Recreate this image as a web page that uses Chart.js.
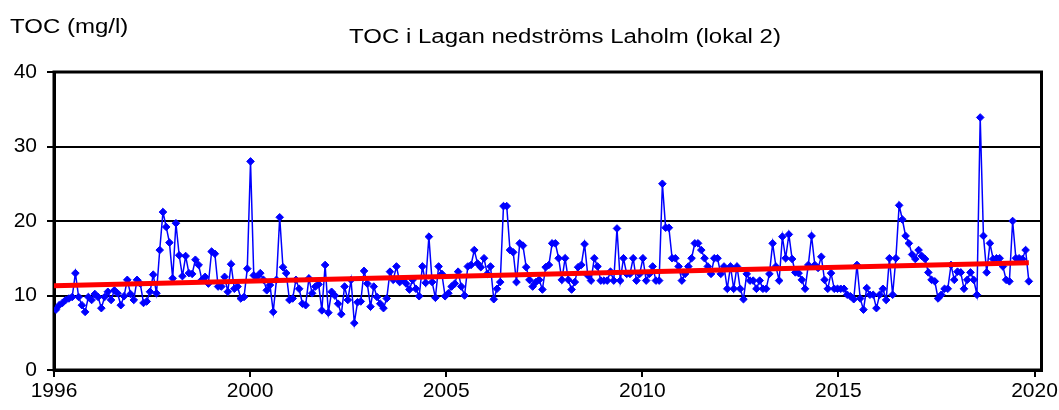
<!DOCTYPE html>
<html lang="sv">
  <head>
    <meta charset="UTF-8" />
    <title>TOC i Lagan nedströms Laholm</title>
    <style>
      body {
        margin: 0;
        background: #ffffff;
      }
      #toc-chart {
        display: block;
      }
    </style>
    <script src="https://cdn.jsdelivr.net/npm/chart.js"></script>
  </head>
  <body>
    <canvas id="toc-chart" width="1059" height="410"></canvas>
    <script>
      // values, one per sample
      const tocValues = [
        8.1, 8.7, 9.0, 9.4, 9.6, 9.8, 13.0, 9.8, 8.7, 7.8,
        9.8, 9.4, 10.2, 9.8, 8.3, 9.8, 10.5, 9.4, 10.7, 10.3,
        8.7, 9.9, 12.1, 10.2, 9.4, 12.1, 11.6, 9.0, 9.2, 10.5,
        12.8, 10.3, 16.1, 21.2, 19.2, 17.1, 12.3, 19.7, 15.4, 12.6,
        15.3, 13.0, 12.9, 14.8, 14.1, 12.1, 12.5, 11.6, 15.9, 15.6,
        11.2, 11.2, 12.5, 10.5, 14.2, 10.9, 11.2, 9.6, 9.8, 13.6,
        28.0, 12.7, 12.5, 13.0, 12.1, 10.7, 11.4, 7.8, 12.1, 20.5,
        13.8, 13.0, 9.4, 9.6,
        12.1, 10.9, 8.9, 8.7, 12.3, 10.3, 11.2, 11.5, 8.0, 14.1,
        7.7, 10.5, 10.0, 8.9, 7.5, 11.2, 9.4, 12.1, 6.3, 9.1,
        9.2, 13.3, 11.6, 8.5, 11.2, 9.8, 8.9, 8.3, 9.6, 13.2,
        12.1, 13.9, 11.8, 12.1, 11.6, 10.8, 12.1, 10.9, 9.9, 13.9,
        11.7, 17.9, 11.8, 9.7, 13.9, 12.9, 9.9, 10.3, 11.2, 11.6,
        13.2, 11.2, 10.0, 13.9, 14.1, 16.1, 14.3, 13.8, 15.0, 12.9,
        13.9, 9.5, 10.9, 11.8, 22.0, 22.0, 16.1, 15.8, 11.8, 17.0,
        16.7, 13.8, 12.1, 11.2, 11.8, 12.1,
        10.8, 13.8, 14.1, 17.0, 17.0, 15.0, 12.1, 15.0, 12.1, 10.8,
        11.8, 13.8, 14.1, 16.9, 12.7, 12.0, 15.0, 13.9, 12.0, 12.0,
        12.0, 13.2, 12.0, 19.0, 12.0, 15.0, 12.9, 12.9, 15.0, 12.0,
        12.9, 15.0, 12.0, 12.9, 13.9, 12.0, 12.0, 25.0, 19.1, 19.1,
        15.0, 15.0, 13.9, 12.0, 12.9, 13.9, 15.0, 17.0, 17.0, 16.1,
        15.0, 13.9, 12.9, 15.0, 15.0, 12.9, 13.9, 10.9, 13.9, 10.9,
        13.9, 10.9, 9.5, 12.9, 12.0, 12.0, 10.9, 12.0, 10.9, 10.9,
        12.9, 17.0, 13.9, 12.0, 17.9, 15.0,
        18.2, 14.9, 13.1, 13.0, 12.1, 10.9, 14.1, 18.0, 14.1, 13.7,
        15.2, 12.1, 10.9, 13.0, 10.9, 10.9, 10.9, 10.9, 10.1, 9.9,
        9.5, 14.1, 9.6, 8.1, 11.0, 10.1, 10.1, 8.3, 10.1, 10.9,
        9.4, 15.0, 10.1, 15.0, 22.1, 20.2, 18.0, 17.0, 15.5, 14.9,
        16.1, 15.3, 14.9, 13.1, 12.1, 11.9, 9.6, 10.1, 10.9, 10.9,
        14.1, 12.1, 13.2, 13.1, 10.9, 12.1, 13.1, 12.1, 10.1, 33.9,
        18.0, 13.1, 17.0, 14.9, 15.0, 15.0, 13.9, 12.1, 11.9, 20.0,
        15.0, 15.0, 14.9, 16.1, 11.9
      ];

      // linear trend, start and end value
      const trendValues = [11.3, 14.4];

      const tickLabels = ["1996", "2000", "2005", "2010", "2015", "2020"];
      const yTicks = [0, 10, 20, 30, 40];

      // axis layout (samples are evenly spaced like an Excel category axis)
      const xMin = -0.6;
      const xMax = 303.9;
      const tickEvery = 60.47;

      const FONT = "'Liberation Sans', Arial, sans-serif";

      const points = tocValues.map((v, i) => ({ x: i, y: v }));
      const trend = [
        { x: xMin, y: trendValues[0] },
        { x: tocValues.length - 1, y: trendValues[1] },
      ];

      // the original text is a bit stretched sideways
      const stretchText = (ctx, text, x, y, align) => {
        ctx.save();
        ctx.translate(x, y);
        ctx.scale(1.2, 1);
        ctx.textAlign = align;
        ctx.fillText(text, 0, 0);
        ctx.restore();
      };

      // frame + the two texts at the top
      const decorations = {
        id: "decorations",
        beforeDatasetsDraw(chart) {
          const { ctx, chartArea: a } = chart;
          ctx.save();
          ctx.strokeStyle = "#000";
          ctx.lineWidth = 3;
          ctx.strokeRect(a.left, a.top, a.right - a.left, a.bottom - a.top);
          ctx.restore();
        },
        afterDraw(chart) {
          const { ctx } = chart;
          ctx.save();
          ctx.fillStyle = "#000";
          ctx.textBaseline = "middle";
          ctx.font = "20px " + FONT;
          stretchText(ctx, "TOC (mg/l)", 10, 27, "left");
          stretchText(ctx, "TOC i Lagan nedströms Laholm (lokal 2)", 565, 37, "center");
          ctx.restore();
        },
      };

      new Chart(document.getElementById("toc-chart"), {
        type: "line",
        data: {
          datasets: [
            {
              label: "TOC",
              data: points,
              borderColor: "#0000ff",
              backgroundColor: "#0000ff",
              borderWidth: 1.5,
              pointStyle: "rectRot",
              pointRadius: 3.8,
              pointBorderWidth: 1,
              tension: 0,
              order: 2,
            },
            {
              label: "Trend",
              data: trend,
              borderColor: "#ff0000",
              borderWidth: 5,
              pointRadius: 0,
              order: 1,
            },
          ],
        },
        options: {
          responsive: false,
          animation: false,
          devicePixelRatio: 1,
          layout: { padding: { top: 72, right: 17.5, left: 0, bottom: 0 } },
          plugins: {
            legend: { display: false },
            tooltip: { enabled: false },
          },
          scales: {
            x: {
              type: "linear",
              min: xMin,
              max: xMax,
              afterBuildTicks: (s) => {
                s.ticks = tickLabels.map((_, k) => ({ value: xMin + k * tickEvery }));
              },
              afterFit: (s) => {
                s.height = 40;
                s.paddingLeft = 0;
                s.paddingRight = 0;
              },
              ticks: {
                autoSkip: false,
                maxRotation: 0,
                padding: 2,
                color: "#000",
                font: { family: FONT, size: 21 },
                callback: (v, i) => tickLabels[i],
              },
              grid: {
                drawOnChartArea: false,
                color: "#000",
                lineWidth: 2,
                tickLength: 7,
              },
              border: { color: "#000", width: 3 },
            },
            y: {
              min: 0,
              max: 40,
              afterBuildTicks: (s) => {
                s.ticks = yTicks.map((v) => ({ value: v }));
              },
              afterFit: (s) => {
                s.width = 54;
                s.paddingTop = 0;
                s.paddingBottom = 0;
              },
              ticks: {
                padding: 10,
                color: "#000",
                font: { family: FONT, size: 21 },
              },
              grid: {
                color: "#000",
                lineWidth: 2,
                tickLength: 7,
              },
              border: { color: "#000", width: 3 },
            },
          },
        },
        plugins: [decorations],
      });
    </script>
  </body>
</html>
